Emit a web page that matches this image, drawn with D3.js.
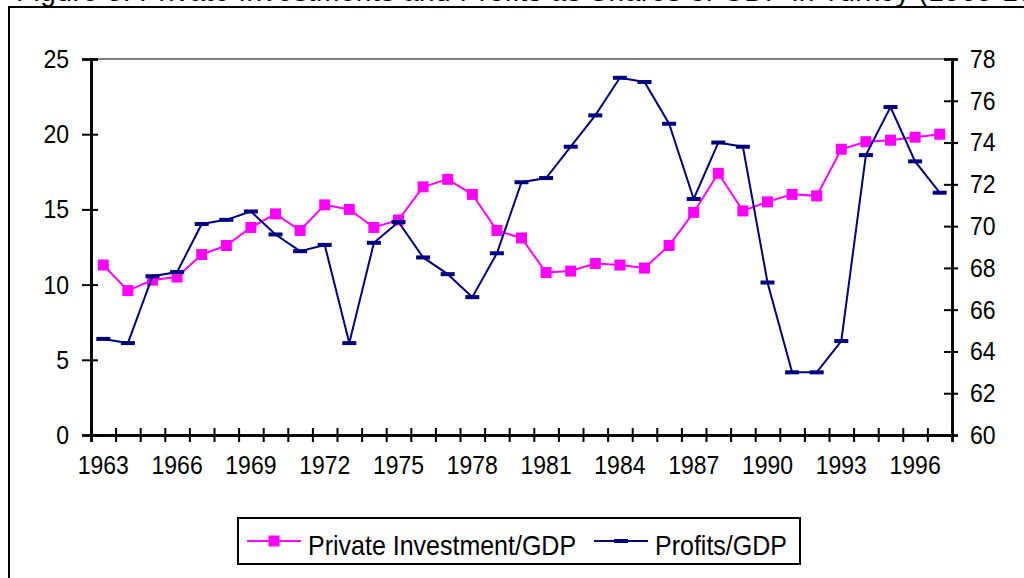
<!DOCTYPE html>
<html>
<head>
<meta charset="utf-8">
<script src="https://cdn.jsdelivr.net/npm/d3@7"></script>
<style>
  body { margin: 0; background: #fff; }
  text { font-family: "Liberation Sans", Arial, sans-serif; fill: #000; }
</style>
</head>
<body>
<div class="chart"></div>
<script>
// Private investment and profits as share of GDP, Turkey 1963-1997

const years = [1963, 1964, 1965, 1966, 1967, 1968, 1969, 1970, 1971, 1972, 1973, 1974,
  1975, 1976, 1977, 1978, 1979, 1980, 1981, 1982, 1983, 1984, 1985, 1986, 1987, 1988,
  1989, 1990, 1991, 1992, 1993, 1994, 1995, 1996, 1997];

const investment = [11.3, 9.6, 10.3, 10.5, 12.0, 12.6, 13.8, 14.7, 13.6, 15.3, 15.0, 13.8,
  14.3, 16.5, 17.0, 16.0, 13.6, 13.1, 10.8, 10.9, 11.4, 11.3, 11.1, 12.6, 14.8, 17.4,
  14.9, 15.5, 16.0, 15.9, 19.0, 19.5, 19.6, 19.8, 20.0];

const profits = [64.6, 64.4, 67.6, 67.8, 70.1, 70.3, 70.7, 69.6, 68.8, 69.1, 64.4, 69.2,
  70.2, 68.5, 67.7, 66.6, 68.7, 72.1, 72.3, 73.8, 75.3, 77.1, 76.9, 74.9, 71.3, 74.0,
  73.8, 67.3, 63.0, 63.0, 64.5, 73.4, 75.7, 73.1, 71.6];

const leftTicks = [0, 5, 10, 15, 20, 25];
const rightTicks = [60, 62, 64, 66, 68, 70, 72, 74, 76, 78];
const yearLabels = [1963, 1966, 1969, 1972, 1975, 1978, 1981, 1984, 1987, 1990, 1993, 1996];

const seriesNames = ["Private Investment/GDP", "Profits/GDP"];
const titleText = "Figure 3: Private Investments and Profits as Shares of GDP in Turkey (1963-1997)";

const W = 1024, H = 578;
const plot = { left: 91, right: 952, top: 59, bottom: 435 };
const pink = "#ff00ff", navy = "#000080";
const stretch = 1.14; // the source text is a bit taller than Arial

const svg = d3.select(".chart")
  .append("svg")
  .attr("width", W)
  .attr("height", H);

// scales
const x = d3.scaleBand()
  .domain(years)
  .range([plot.left, plot.right]);

const xEdge = d3.scaleLinear()
  .domain([years[0] - 0.5, years[years.length - 1] + 0.5])
  .range([plot.left, plot.right]);

const yLeft = d3.scaleLinear().domain([0, 25]).range([plot.bottom, plot.top]);
const yRight = d3.scaleLinear().domain([60, 78]).range([plot.bottom, plot.top]);

const cx = function (d, i) { return x(years[i]) + x.bandwidth() / 2; };

drawFrame();
drawAxes();
drawSeries();
drawLegend();

//A function that draws the outer border, the cut-off title and the top plot line
function drawFrame() {
  // the title is cropped by the top edge in the source, only its lower part shows
  svg.append("text")
    .attr("x", 16)
    .attr("y", 0.5)
    .attr("textLength", 1060)
    .attr("lengthAdjust", "spacing")
    .style("font-size", "28px")
    .text(titleText);

  svg.append("rect")
    .attr("x", 9)
    .attr("y", 7)
    .attr("width", 1100)
    .attr("height", 700)
    .attr("fill", "none")
    .attr("stroke", "#000")
    .attr("stroke-width", 2);

  svg.append("line")
    .attr("x1", plot.left).attr("x2", plot.right)
    .attr("y1", plot.top).attr("y2", plot.top)
    .attr("stroke", "#808080")
    .attr("stroke-width", 2);
}

//A function that draws both value axes and the category axis with crossing ticks
function drawAxes() {
  // left axis: outward ticks with labels, then inward ticks
  const gl = svg.append("g")
    .attr("transform", "translate(" + plot.left + ",0)")
    .call(d3.axisLeft(yLeft).tickValues(leftTicks).tickSize(9).tickPadding(13));
  svg.append("g")
    .attr("transform", "translate(" + plot.left + ",0)")
    .call(d3.axisRight(yLeft).tickValues(leftTicks).tickSize(7).tickFormat(""));

  // right axis
  const gr = svg.append("g")
    .attr("transform", "translate(" + plot.right + ",0)")
    .call(d3.axisRight(yRight).tickValues(rightTicks).tickSize(6).tickPadding(12));
  svg.append("g")
    .attr("transform", "translate(" + plot.right + ",0)")
    .call(d3.axisLeft(yRight).tickValues(rightTicks).tickSize(8).tickFormat(""));

  // bottom axis ticks sit between categories
  const edges = years.map(function (d) { return d - 0.5; }).concat([years[years.length - 1] + 0.5]);
  svg.append("g")
    .attr("transform", "translate(0," + plot.bottom + ")")
    .call(d3.axisBottom(xEdge).tickValues(edges).tickSize(7).tickFormat(""));
  svg.append("g")
    .attr("transform", "translate(0," + plot.bottom + ")")
    .call(d3.axisTop(xEdge).tickValues(edges).tickSize(7).tickFormat(""));

  const gb = svg.append("g")
    .attr("transform", "translate(0," + plot.bottom + ")")
    .call(d3.axisBottom(x).tickValues(yearLabels).tickSize(0).tickPadding(20));

  svg.selectAll(".domain").attr("stroke", "#000").attr("stroke-width", 2.5);
  svg.selectAll(".tick line").attr("stroke", "#000").attr("stroke-width", 2);

  [gl, gr, gb].forEach(function (g) {
    g.selectAll(".tick text")
      .style("font-size", "23px")
      .attr("fill", "#000")
      .attr("transform", "scale(1," + stretch + ")");
  });
  // scaling moves the labels down, so pull their y back
  gl.selectAll(".tick text").attr("dy", "0.32em");
  gr.selectAll(".tick text").attr("dy", "0.32em");
  gb.selectAll(".tick text").attr("y", 20 / stretch).attr("dy", "0.71em");
}

//A function that draws the two lines with their markers
function drawSeries() {
  // investment on the left axis
  const invLine = d3.line()
    .x(cx)
    .y(function (d) { return yLeft(d); });

  svg.append("path")
    .datum(investment)
    .attr("d", invLine)
    .attr("fill", "none")
    .attr("stroke", pink)
    .attr("stroke-width", 2);

  svg.selectAll(".inv-marker")
    .data(investment)
    .enter()
    .append("rect")
    .attr("class", "inv-marker")
    .attr("x", function (d, i) { return cx(d, i) - 5.5; })
    .attr("y", function (d) { return yLeft(d) - 5.5; })
    .attr("width", 11)
    .attr("height", 11)
    .attr("fill", pink);

  // profits on the right axis
  const profLine = d3.line()
    .x(cx)
    .y(function (d) { return yRight(d); });

  svg.append("path")
    .datum(profits)
    .attr("d", profLine)
    .attr("fill", "none")
    .attr("stroke", navy)
    .attr("stroke-width", 2);

  svg.selectAll(".prof-marker")
    .data(profits)
    .enter()
    .append("rect")
    .attr("class", "prof-marker")
    .attr("x", function (d, i) { return cx(d, i) - 7; })
    .attr("y", function (d) { return yRight(d) - 2; })
    .attr("width", 14)
    .attr("height", 4)
    .attr("fill", navy);
}

//A function for drawing the legend box
function drawLegend() {
  const legend = svg.append("g").attr("class", "legend");

  legend.append("rect")
    .attr("x", 238)
    .attr("y", 518)
    .attr("width", 562)
    .attr("height", 46)
    .attr("fill", "#fff")
    .attr("stroke", "#000")
    .attr("stroke-width", 2);

  const items = [
    { label: seriesNames[0], color: pink, x: 247, marker: "square" },
    { label: seriesNames[1], color: navy, x: 594, marker: "dash" }
  ];

  const item = legend.selectAll(".legend-item")
    .data(items)
    .enter()
    .append("g")
    .attr("class", "legend-item")
    .attr("transform", function (d) { return "translate(" + d.x + ",541)"; });

  item.append("line")
    .attr("x1", 0).attr("x2", 54)
    .attr("y1", 0).attr("y2", 0)
    .attr("stroke", function (d) { return d.color; })
    .attr("stroke-width", 2);

  item.append("rect")
    .attr("x", function (d) { return d.marker == "square" ? 21.5 : 20; })
    .attr("y", function (d) { return d.marker == "square" ? -5.5 : -2; })
    .attr("width", function (d) { return d.marker == "square" ? 11 : 14; })
    .attr("height", function (d) { return d.marker == "square" ? 11 : 4; })
    .attr("fill", function (d) { return d.color; });

  item.append("text")
    .attr("transform", "translate(61,14) scale(1," + stretch + ")")
    .style("font-size", "25px")
    .text(function (d) { return d.label; });
}
</script>
</body>
</html>
